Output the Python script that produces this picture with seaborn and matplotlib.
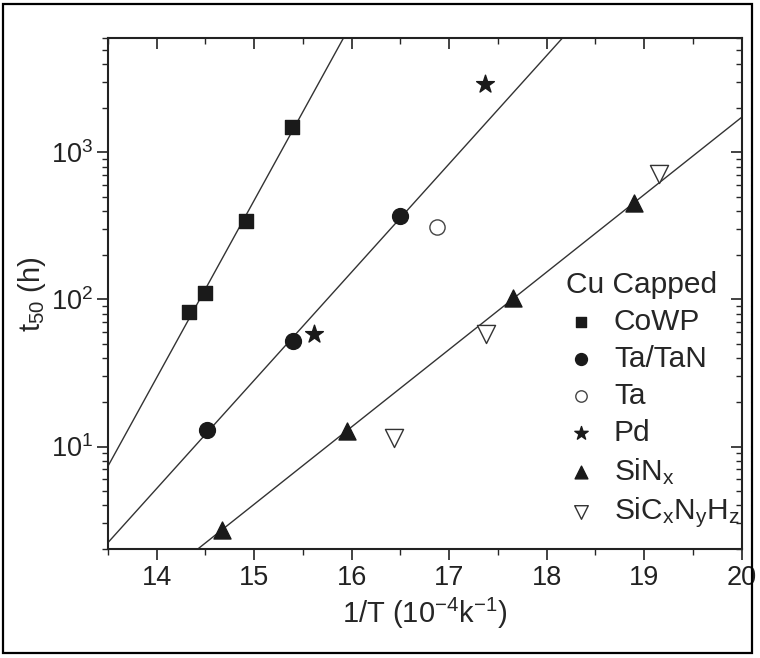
import numpy as np
import pandas as pd
import matplotlib
matplotlib.use("Agg")
import matplotlib.pyplot as plt
import seaborn as sns
from matplotlib.patches import Rectangle

# ---- data ----
cowp_x = [14.33, 14.50, 14.92, 15.39]
cowp_y = [82, 110, 340, 1500]
tatan_x = [14.52, 15.40, 16.50]
tatan_y = [13, 52, 370]
ta_x = [16.87]
ta_y = [313]
pd_x = [15.61, 17.37]
pd_y = [58, 2940]
sinx_x = [14.67, 15.95, 17.65, 18.90]
sinx_y = [2.7, 12.8, 103, 450]
sicnh_x = [16.43, 17.38, 19.15]
sicnh_y = [11.5, 58, 716]

x_ticks = [14, 15, 16, 17, 18, 19, 20]
x_lim = (13.5, 20)
y_lim = (2, 6000)

sns.set_theme(style="white")
plt.rcParams["font.family"] = ["Liberation Sans", "DejaVu Sans"]
plt.rcParams["mathtext.fontset"] = "custom"
plt.rcParams["mathtext.rm"] = "Liberation Sans"
plt.rcParams["mathtext.it"] = "Liberation Sans"
plt.rcParams["mathtext.default"] = "regular"

fig = plt.figure(figsize=(7.6, 6.58), dpi=100)
ax = fig.add_axes([0.1421, 0.1652, 0.8338, 0.7770])

# fitted lines (log-linear regression of each series)
xx = np.linspace(x_lim[0], x_lim[1], 300)
for xs, ys in [(cowp_x, cowp_y), (tatan_x, tatan_y), (sinx_x, sinx_y)]:
    k, b = np.polyfit(xs, np.log10(ys), 1)
    fit = pd.DataFrame({"x": xx, "y": 10 ** (k * xx + b)})
    sns.lineplot(data=fit, x="x", y="y", ax=ax, color="#333333", lw=1.0, zorder=2)

series = [
    (cowp_x, cowp_y, "s", "k", "k", "CoWP", 110),
    (tatan_x, tatan_y, "o", "k", "k", "Ta/TaN", 130),
    (ta_x, ta_y, "o", "white", "#444444", "Ta", 120),
    (pd_x, pd_y, "*", "k", "k", "Pd", 180),
    (sinx_x, sinx_y, "^", "k", "k", r"SiN$_x$", 150),
    (sicnh_x, sicnh_y, "v", "white", "#333333", r"SiC$_x$N$_y$H$_z$", 170),
]
for xs, ys, m, fc, ec, lab, s in series:
    df = pd.DataFrame({"x": xs, "y": ys})
    sns.scatterplot(data=df, x="x", y="y", ax=ax, marker=m, s=s,
                    color=fc, edgecolor=ec, linewidth=1.0, label=lab, zorder=3)

ax.set_yscale("log")
ax.set_xlim(*x_lim)
ax.set_ylim(*y_lim)
ax.set_xticks(x_ticks)
ax.set_xticks(np.arange(13.5, 20.01, 0.5), minor=True)
ax.set_xlabel(r"1/T (10$^{-4}$k$^{-1}$)", fontsize=21, labelpad=4)
ax.set_ylabel(r"t$_{50}$ (h)", fontsize=21, labelpad=2)

for sp in ax.spines.values():
    sp.set_color("#222222")
    sp.set_linewidth(1.5)

ax.tick_params(axis="both", which="major", direction="out", length=8, width=1.2,
               labelsize=19.5, colors="#222222", top=False, right=False,
               bottom=True, left=True, pad=3)
ax.tick_params(axis="both", which="minor", direction="out", length=4, width=1.0,
               top=False, right=False, bottom=True, left=True)

# mirrored ticks on top / right (pointing inward)
axt = ax.twiny()
axt.set_xlim(*x_lim)
axt.set_xticks(x_ticks)
axt.set_xticks(np.arange(13.5, 20.01, 0.5), minor=True)
axt.tick_params(axis="x", which="major", direction="in", length=8, width=1.2,
                labeltop=False, top=True, colors="#222222")
axt.tick_params(axis="x", which="minor", direction="in", length=4, width=1.0, top=True)
axr = ax.twinx()
axr.set_yscale("log")
axr.set_ylim(*y_lim)
axr.tick_params(axis="y", which="major", direction="in", length=8, width=1.2,
                labelright=False, right=True, colors="#222222")
axr.tick_params(axis="y", which="minor", direction="in", length=4, width=1.0, right=True)
for a in (axt, axr):
    for sp in a.spines.values():
        sp.set_visible(False)
    a.grid(False)

leg = ax.legend(title="Cu Capped", loc="upper left", bbox_to_anchor=(0.69, 0.585),
                frameon=False, fontsize=21.5, title_fontsize=21.5, markerscale=0.75,
                handlelength=1.0, handletextpad=0.6, labelspacing=0.3,
                borderpad=0.2, alignment="left")

fig.add_artist(Rectangle((0.004, 0.007), 0.986, 0.987, transform=fig.transFigure,
                         fill=False, edgecolor="black", linewidth=1.6))

fig.savefig("out.png", dpi=100)
